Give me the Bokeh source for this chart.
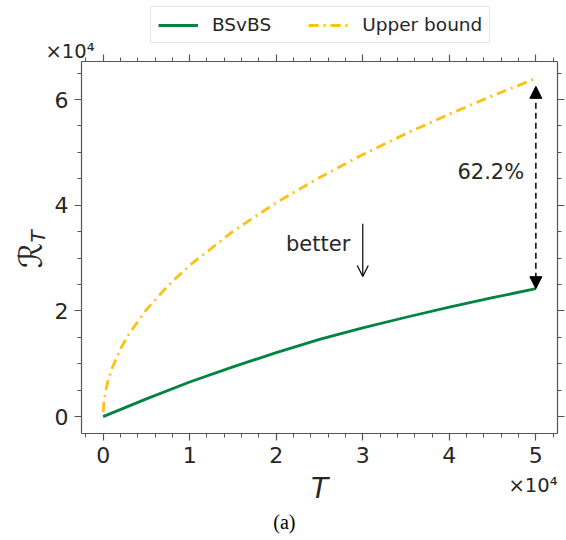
import numpy as np
from bokeh.plotting import figure
from bokeh.models import (Range1d, LinearAxis, SingleIntervalTicker, Label, Arrow,
                          OpenHead, NormalHead, Legend, CustomJSTickFormatter)
from bokeh.embed import file_html
from bokeh.resources import INLINE

# ---- data ----
T_bsvbs = [0, 5000, 10000, 15000, 20000, 25000, 30000, 35000, 40000, 45000, 50000]
R_bsvbs = [0, 3350, 6550, 9400, 12100, 14600, 16800, 18800, 20700, 22500, 24200]

T_upper = [10, 50, 100, 250, 500, 1000, 2000, 3000, 5000, 7500, 10000, 15000,
           20000, 25000, 30000, 35000, 40000, 45000, 50000]
R_upper = [905, 2024, 2860, 4525, 6400, 9050, 12800, 15680, 20240, 24790, 28620, 35050,
           40480, 45250, 49580, 53550, 57240, 60720, 64000]

better_arrow_T = 30000
better_arrow_R = [36500, 26500]
gap_arrow_top_R = 62500

scale = 1e4
green = "#00843f"
yellow = "#fdc10f"
dark = "#262626"
axis_col = "#555555"

xb = np.array(T_bsvbs) / scale
yb = np.array(R_bsvbs) / scale
xu = np.array(T_upper) / scale
yu = np.array(R_upper) / scale

# ---- layout: axes box inside the canvas ----
W, H = 566, 540
box_l, box_r, box_t, box_b = 81, 557, 61, 433
x0, x1 = -0.25, 5.25
y0, y1 = -0.32, 6.72
kx = (box_r - box_l) / (x1 - x0)
ky = (box_b - box_t) / (y1 - y0)
xr = Range1d(x0 - box_l / kx, x1 + (W - box_r) / kx)
yr = Range1d(y0 - (H - box_b) / ky, y1 + box_t / ky)

p = figure(width=W, height=H, output_backend="svg", toolbar_location=None,
           x_range=xr, y_range=yr, min_border=0,
           x_axis_location=None, y_axis_location=None)
p.title.visible = False
p.grid.visible = False
p.outline_line_color = None
p.background_fill_color = "white"
p.border_fill_color = "white"

bottom = LinearAxis(fixed_location=y0, bounds=(x0, x1))
top = LinearAxis(fixed_location=y1, bounds=(x0, x1))
left = LinearAxis(fixed_location=x0, bounds=(y0, y1))
right = LinearAxis(fixed_location=x1, bounds=(y0, y1))
p.add_layout(bottom, "below")
p.add_layout(top, "above")
p.add_layout(left, "left")
p.add_layout(right, "right")

for ax in (bottom, top):
    ax.ticker = SingleIntervalTicker(interval=1, num_minor_ticks=5)
for ax in (left, right):
    ax.ticker = SingleIntervalTicker(interval=2, num_minor_ticks=4)

for ax in (bottom, top, left, right):
    ax.axis_line_color = axis_col
    ax.axis_line_width = 1.2
    ax.major_tick_line_color = axis_col
    ax.minor_tick_line_color = axis_col
    ax.major_tick_line_width = 1.2
    ax.minor_tick_line_width = 1.0
    ax.major_tick_out = 7
    ax.major_tick_in = 0
    ax.minor_tick_out = 4
    ax.minor_tick_in = 0
    ax.major_label_text_font = "DejaVu Sans"
    ax.major_label_text_font_size = "22px"
    ax.major_label_text_color = dark
    ax.major_label_standoff = 6

for ax in (top, right):
    ax.formatter = CustomJSTickFormatter(code="return ''")
    ax.major_label_standoff = 0

r1 = p.line(xb, yb, line_color=green, line_width=2.8)
r2 = p.line(xu, yu, line_color=yellow, line_width=2.8, line_dash="10 5 2 5")

legend = Legend(items=[("BSvBS", [r1]), ("Upper bound", [r2])],
                orientation="horizontal", location=(150, H - 43),
                label_text_font="DejaVu Sans", label_text_font_size="18.5px",
                label_text_color=dark,
                glyph_width=40, glyph_height=20, label_standoff=14, spacing=37,
                padding=7, margin=0, border_line_color="#cccccc", border_line_width=1,
                background_fill_color="white", background_fill_alpha=1.0)
p.add_layout(legend, "center")

# axis labels and offset texts
p.add_layout(Label(x=-0.839, y=3.05, text="ℛ", angle=np.pi / 2, text_align="center",
                   text_baseline="middle", text_font="DejaVu Sans",
                   text_font_size="32px", text_color=dark))
p.add_layout(Label(x=-0.747, y=3.41, text="T", angle=np.pi / 2, text_align="center",
                   text_baseline="middle", text_font="DejaVu Sans", text_font_style="italic",
                   text_font_size="20px", text_color=dark))
p.add_layout(Label(x=2.5, y=-1.36, text="T", text_align="center", text_baseline="middle",
                   text_font="DejaVu Sans", text_font_style="italic",
                   text_font_size="28px", text_color=dark))
p.add_layout(Label(x=-0.666, y=6.91, text="×10⁴", text_align="left", text_baseline="middle",
                   text_font="DejaVu Sans", text_font_size="19.5px", text_color=dark))
p.add_layout(Label(x=x1, y=-1.30, text="×10⁴", text_align="right", text_baseline="middle",
                   text_font="DejaVu Sans", text_font_size="19.5px", text_color=dark))
p.add_layout(Label(x=2.094, y=-2.0, text="(a)", text_align="center", text_baseline="middle",
                   text_font="Liberation Serif", text_font_size="20px", text_color="black"))

# annotations
p.add_layout(Arrow(end=OpenHead(size=11, line_width=1.2, line_color="black"),
                   x_start=better_arrow_T / scale, y_start=better_arrow_R[0] / scale,
                   x_end=better_arrow_T / scale, y_end=better_arrow_R[1] / scale,
                   line_width=1.2, line_color="black"))
p.add_layout(Label(x=2.856, y=3.257, text="better", text_align="right", text_baseline="middle",
                   text_font="DejaVu Sans", text_font_size="21px", text_color=dark))

gap_pct = (1 - R_bsvbs[-1] / R_upper[-1]) * 100
p.add_layout(Arrow(start=NormalHead(size=12, fill_color="black", line_color="black"),
                   end=NormalHead(size=12, fill_color="black", line_color="black"),
                   x_start=T_bsvbs[-1] / scale, y_start=R_bsvbs[-1] / scale,
                   x_end=T_bsvbs[-1] / scale, y_end=gap_arrow_top_R / scale,
                   line_width=1.5, line_color="black", line_dash="6 4"))
p.add_layout(Label(x=4.865, y=4.638, text=f"{gap_pct:.1f}%", text_align="right",
                   text_baseline="middle", text_font="DejaVu Sans", text_font_size="21px",
                   text_color=dark))

open("out.html", "w").write(file_html(p, INLINE))
